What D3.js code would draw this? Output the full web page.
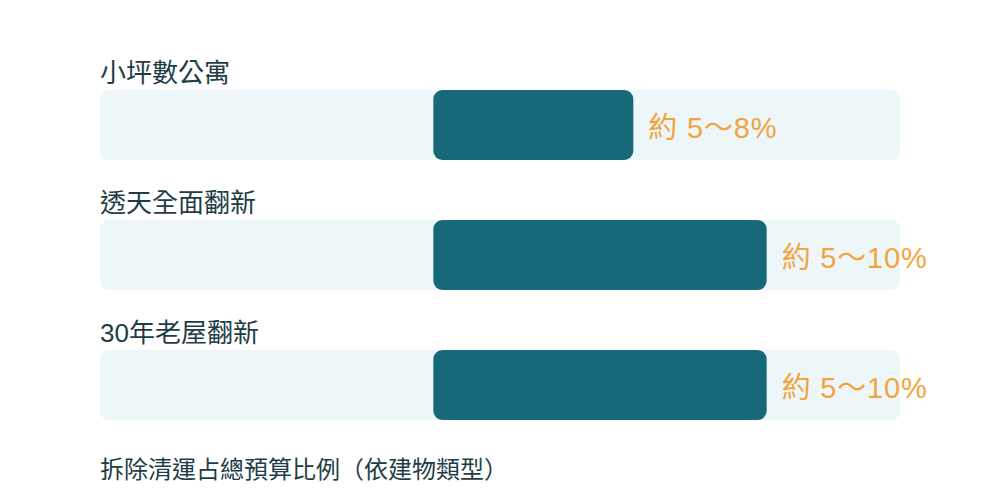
<!DOCTYPE html>
<html><head><meta charset="utf-8">
<script src="https://cdn.jsdelivr.net/npm/d3@7"></script>
<style>
html,body{margin:0;padding:0;background:#fff;}
svg{display:block;font-family:"Liberation Sans","Noto Sans CJK TC",sans-serif;}
</style></head>
<body>
<svg id="chart" width="1000" height="500"></svg>
<script>
const categories = ["小坪數公寓", "透天全面翻新", "30年老屋翻新"];
const lowValues = [5, 5, 5];
const highValues = [8, 10, 10];
const valueLabels = ["約 5～8%", "約 5～10%", "約 5～10%"];
const axisMax = 12;
const title = "拆除清運占總預算比例（依建物類型）";

const svg = d3.select("#chart");
const x = d3.scaleLinear().domain([0, axisMax]).range([100, 900]);
const y = d3.scaleBand().domain(categories).range([90, 480]).paddingInner(0).paddingOuter(0);
const barH = 70;

const rows = svg.selectAll("g.row").data(categories).join("g").attr("class","row")
  .attr("transform", d => `translate(0,${y(d)})`);

rows.append("text")
  .attr("x", x(0)).attr("y", -8)
  .attr("font-size", 26).attr("fill", "#1f3d47")
  .text(d => d);

rows.append("rect")
  .attr("x", x(0)).attr("y", 0)
  .attr("width", x(axisMax) - x(0)).attr("height", barH)
  .attr("rx", 9).attr("fill", "#edf6f9");

rows.append("rect")
  .attr("x", (d,i) => x(lowValues[i])).attr("y", 0)
  .attr("width", (d,i) => x(highValues[i]) - x(lowValues[i])).attr("height", barH)
  .attr("rx", 9).attr("fill", "#17697a");

rows.append("text")
  .attr("x", (d,i) => x(highValues[i]) + 15).attr("y", barH/2 + 3)
  .attr("dominant-baseline", "central")
  .attr("font-size", 29).attr("letter-spacing", 0.8).attr("fill", "#f2a53c")
  .text((d,i) => valueLabels[i]);

svg.append("text")
  .attr("x", x(0)).attr("y", 478)
  .attr("font-size", 24).attr("fill", "#1f3d47")
  .text(title);
</script>
</body></html>
